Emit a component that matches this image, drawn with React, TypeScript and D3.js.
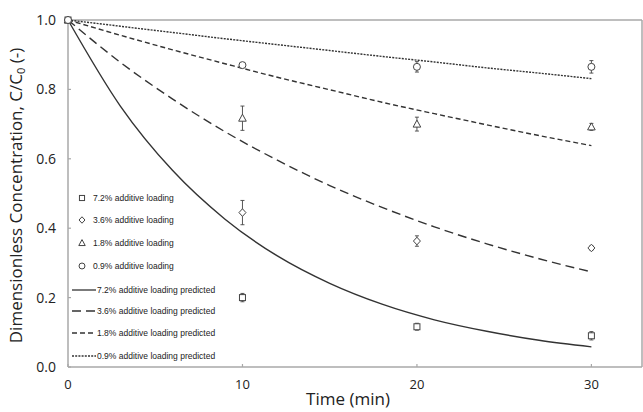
import React from "react";
import * as d3 from "d3";

const W = 643, H = 412;
const seriesNames = ["7.2% additive loading", "3.6% additive loading", "1.8% additive loading", "0.9% additive loading"];
const markerTypes = ["square", "diamond", "triangle", "circle"];
const obsTimes = [0, 10, 20, 30];
const obs72 = [1.0, 0.2, 0.116, 0.09];
const obs36 = [1.0, 0.445, 0.363, 0.343];
const obs18 = [1.0, 0.717, 0.7, 0.692];
const obs09 = [1.0, 0.87, 0.865, 0.865];
const err72 = [0, 0.012, 0.01, 0.012];
const err36 = [0, 0.035, 0.015, 0.006];
const err18 = [0, 0.035, 0.02, 0.01];
const err09 = [0, 0.006, 0.015, 0.018];
const predTimes = [0, 3, 6, 9, 12, 15, 18, 21, 24, 27, 30];
const pred72 = [1, 0.752, 0.566, 0.426, 0.32, 0.241, 0.181, 0.136, 0.103, 0.077, 0.058];
const pred36 = [1, 0.878, 0.772, 0.678, 0.596, 0.523, 0.46, 0.404, 0.355, 0.312, 0.274];
const pred18 = [1, 0.956, 0.914, 0.874, 0.835, 0.799, 0.763, 0.73, 0.698, 0.667, 0.638];
const pred09 = [1, 0.982, 0.964, 0.946, 0.929, 0.912, 0.895, 0.879, 0.862, 0.847, 0.831];
const xTicks = [0, 10, 20, 30];
const yTicks = [0, 0.2, 0.4, 0.6, 0.8, 1.0];
const dashes = ["none", "9,5", "5,3", "2,1.2"];

const obsAll = [obs72, obs36, obs18, obs09];
const errAll = [err72, err36, err18, err09];
const predAll = [pred72, pred36, pred18, pred09];

const L = 68, R = 642, T = 20, B = 367;
const x = d3.scaleLinear().domain([0, 32.9]).range([L, R]);
const y = d3.scaleLinear().domain([0, 1]).range([B, T]);
const COL = "#444";
const AX = "#a8a8a8";

function Marker({ type, cx, cy, k = 1 }: { type: string; cx: number; cy: number; k?: number }) {
  const s = 3 * k;
  const p = { fill: "white", stroke: COL, strokeWidth: 1 };
  if (type === "square") return <rect x={cx - s} y={cy - s} width={2 * s} height={2 * s} {...p} />;
  if (type === "diamond") return <path d={`M${cx},${cy - 3.8 * k}L${cx + 3.5 * k},${cy}L${cx},${cy + 3.8 * k}L${cx - 3.5 * k},${cy}Z`} {...p} />;
  if (type === "triangle") return <path d={`M${cx},${cy - 4 * k}L${cx + 3.8 * k},${cy + 3 * k}L${cx - 3.8 * k},${cy + 3 * k}Z`} {...p} />;
  return <circle cx={cx} cy={cy} r={3.5 * k} {...p} />;
}

export default function App() {
  const line = d3.line<number>().x((_, i) => x(predTimes[i])).y(d => y(d)).curve(d3.curveMonotoneX);
  const legendY = [198, 220, 243, 266, 290, 311, 333, 356];
  return (
    <svg width={W} height={H} style={{ position: "absolute", left: 0, top: 0, background: "white" }}
      fontFamily="'Liberation Sans', Arial, sans-serif">
      <rect x={0} y={0} width={W} height={H} fill="white" />
      {/* frame */}
      <line x1={L} x2={R} y1={T} y2={T} stroke={AX} strokeWidth={1.5} />
      <line x1={R} x2={R} y1={T} y2={B} stroke={AX} strokeWidth={1.5} />
      <line x1={L} x2={L} y1={T} y2={B} stroke={AX} strokeWidth={1.5} />
      <line x1={L} x2={R} y1={B} y2={B} stroke={AX} strokeWidth={1.5} />
      {yTicks.map(t => (
        <g key={"y" + t}>
          <line x1={L} x2={L + 3} y1={y(t)} y2={y(t)} stroke={AX} strokeWidth={1.2} />
          <text x={L - 12} y={y(t) + 5} textAnchor="end" fontSize={14} fill="#222"
            fontFamily="'Open Sans', sans-serif">{t.toFixed(1)}</text>
        </g>
      ))}
      {xTicks.map(t => (
        <g key={"x" + t}>
          <line x1={x(t)} x2={x(t)} y1={B} y2={B - 3} stroke={AX} strokeWidth={1.2} />
          <text x={x(t)} y={B + 22} textAnchor="middle" fontSize={13} fill="#222"
            fontFamily="'Open Sans', sans-serif">{t}</text>
        </g>
      ))}
      <text transform={`translate(22,${(T + B) / 2 + 2}) rotate(-90)`} textAnchor="middle" fontSize={17}
        fill="#222" fontFamily="'Open Sans', sans-serif">
        Dimensionless Concentration, C/C<tspan fontSize={11} dy={3}>0</tspan><tspan dy={-3}> (-)</tspan>
      </text>
      <text x={348} y={405} textAnchor="middle" fontSize={17} fill="#222"
        fontFamily="'Open Sans', sans-serif">Time (min)</text>
      {/* predicted lines */}
      {predAll.map((p, i) => (
        <path key={"p" + i} d={line(p) || ""} fill="none" stroke="#333" strokeWidth={1.4}
          strokeDasharray={dashes[i]} />
      ))}
      {/* observations */}
      {obsAll.map((o, i) => (
        <g key={"o" + i}>
          {o.map((v, j) => {
            const e = errAll[i][j];
            const cx = x(obsTimes[j]);
            return (
              <g key={j}>
                {e > 0 && (
                  <g stroke={COL} strokeWidth={0.9}>
                    <line x1={cx} x2={cx} y1={y(v + e)} y2={y(v - e)} />
                    <line x1={cx - 2} x2={cx + 2} y1={y(v + e)} y2={y(v + e)} />
                    <line x1={cx - 2} x2={cx + 2} y1={y(v - e)} y2={y(v - e)} />
                  </g>
                )}
                <Marker type={markerTypes[i]} cx={cx} cy={y(v)} />
              </g>
            );
          })}
        </g>
      ))}
      {/* legend */}
      {seriesNames.map((n, i) => (
        <g key={"l" + i}>
          <Marker type={markerTypes[i]} cx={82} cy={legendY[i]} k={0.85} />
          <text x={93} y={legendY[i] + 3} fontSize={8.5} fill="#222">{n}</text>
        </g>
      ))}
      {seriesNames.map((n, i) => (
        <g key={"lp" + i}>
          <line x1={72} x2={96} y1={legendY[i + 4]} y2={legendY[i + 4]} stroke="#333" strokeWidth={1.3}
            strokeDasharray={dashes[i]} />
          <text x={97} y={legendY[i + 4] + 3} fontSize={8.5} fill="#222">{n} predicted</text>
        </g>
      ))}
    </svg>
  );
}
